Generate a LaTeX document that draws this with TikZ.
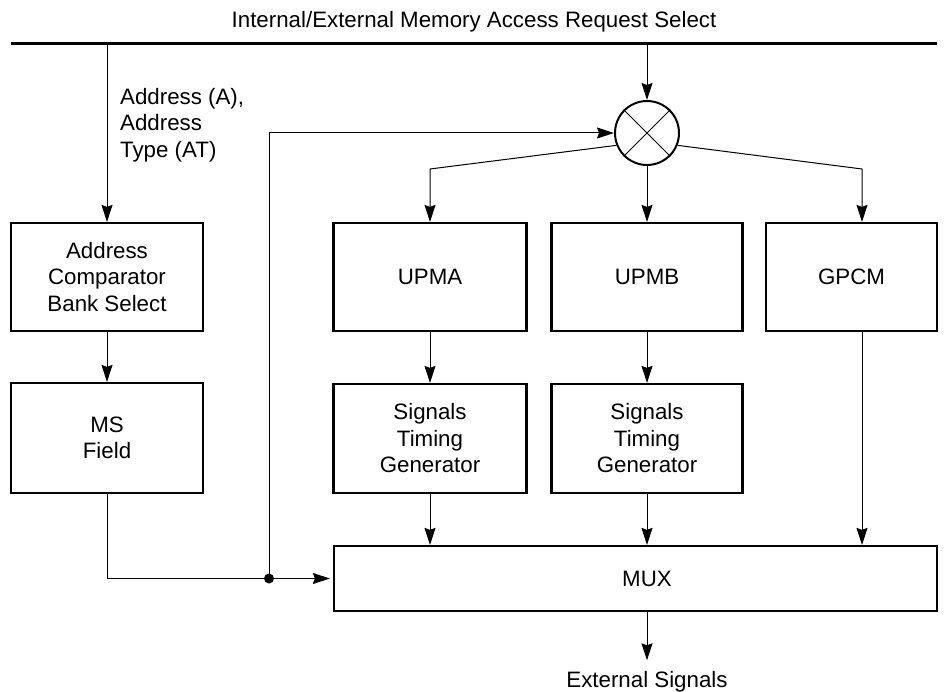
\documentclass[tikz,border=0pt]{standalone}
\usepackage{fontspec}
\setmainfont{Liberation Sans}
\usetikzlibrary{arrows.meta}
\begin{document}
\begin{tikzpicture}[x=1pt,y=-1pt,
  every node/.style={font=\fontsize{22.3}{26.5}\selectfont},
  box/.style={draw, line width=2.2pt, inner sep=0pt, align=center},
  arr/.style={line width=1pt, -{Stealth[length=17pt,width=11pt,inset=2pt]}},
  ln/.style={line width=1pt}]
\useasboundingbox (0,0) rectangle (948,692);
\node[anchor=base] (title) at (474,28) {Internal/External Memory Access Request Select};
\coordinate (busL) at (11,44);
\coordinate (busR) at (937,44);
\draw[line width=3pt] (busL) -- (busR);
\coordinate (a0) at (107,44);
\coordinate (b0) at (647,44);
\node[box, minimum width=192pt, minimum height=108pt] (acb) at (107,277) {Address\\Comparator\\Bank Select};
\node[box, minimum width=192pt, minimum height=110pt] (ms) at (107,438) {MS\\Field};
\node[box, minimum width=193pt, minimum height=108pt] (upma) at (430,277) {UPMA};
\node[box, minimum width=191pt, minimum height=108pt] (upmb) at (647,277) {UPMB};
\node[box, minimum width=171pt, minimum height=108pt] (gpcm) at (851.5,277) {GPCM};
\node[box, minimum width=193pt, minimum height=109pt] (tima) at (430,438.5) {Signals\\Timing\\Generator};
\node[box, minimum width=191pt, minimum height=109pt] (timb) at (647,438.5) {Signals\\Timing\\Generator};
\node[box, minimum width=603pt, minimum height=65pt] (mux) at (635.5,578.5) {};
\node (muxt) at (647,579) {MUX};
\node[draw, circle, line width=2pt, minimum size=64pt, inner sep=0pt] (c) at (647,133) {};
\draw[ln] (c.45) -- (c.225) (c.135) -- (c.315);
\node[anchor=north west, inner sep=0pt, align=left] (alab) at (120,88) {Address (A),\\Address\\Type (AT)};
\node[anchor=base] (ext) at (647,687) {External Signals};
\draw[arr] (a0) -- (acb);
\draw[arr] (acb) -- (ms);
\coordinate (dot) at (269,578.5);
\draw[arr, shorten >=3pt] (ms) |- (mux);
\fill (dot) circle (5pt);
\draw[arr] (dot) |- (c.west);
\draw[arr] (b0) -- (c);
\coordinate (k1) at (430,169);
\coordinate (k3) at (862,169);
\draw[arr] (c.202) -- (k1) -- (upma);
\draw[arr] (c) -- (upmb);
\draw[arr] (c.-22) -- (k3) -- (k3 |- gpcm.north);
\draw[arr] (upma) -- (tima);
\draw[arr] (upmb) -- (timb);
\draw[arr] (tima) -- (tima |- mux.north);
\draw[arr] (timb) -- (timb |- mux.north);
\draw[arr] (k3 |- gpcm.south) -- (k3 |- mux.north);
\draw[arr, shorten >=7pt] (mux.south -| ext) -- (ext.north);
\end{tikzpicture}
\end{document}
